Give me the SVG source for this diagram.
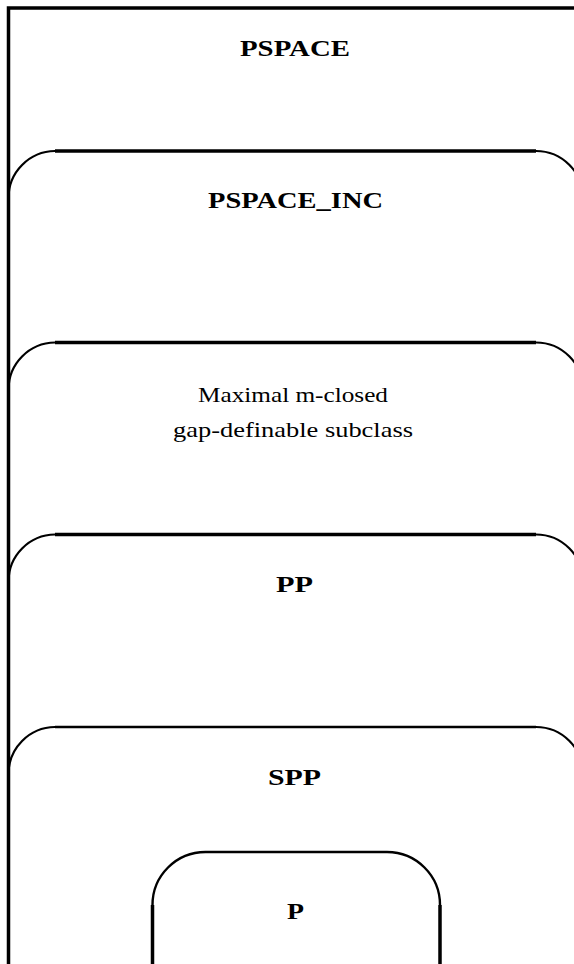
<svg xmlns="http://www.w3.org/2000/svg" width="574" height="964" viewBox="0 0 574 964">
<style>
.line{fill:none;stroke:#000;stroke-width:3.5;stroke-linecap:butt}
.arc{fill:none;stroke:#000;stroke-width:2.2}
.thin{fill:none;stroke:#000;stroke-width:2.4}
.b{font-family:"Liberation Serif","Times New Roman",serif;font-weight:bold;font-size:24px;text-anchor:middle;fill:#000}
.r{font-family:"Liberation Serif","Times New Roman",serif;font-size:21px;text-anchor:middle;fill:#000}
</style>
<rect width="574" height="964" fill="#fff"/>
<g id="pspace">
<path class="line" d="M8.5 964 V8 H574"/>
<text class="b" x="295" y="56" textLength="110" lengthAdjust="spacingAndGlyphs">PSPACE</text>
</g>
<g id="pspace_inc">
<path class="line" d="M55 151 H536"/>
<path class="arc" d="M8.5 198 A47 47 0 0 1 55 151 M536 151 A47 47 0 0 1 583 198"/>
<text class="b" x="295.5" y="208" textLength="175" lengthAdjust="spacingAndGlyphs">PSPACE_INC</text>
</g>
<g id="maximal">
<path class="line" d="M55 342.5 H536"/>
<path class="arc" d="M8.5 389.5 A47 47 0 0 1 55 342.5 M536 342.5 A47 47 0 0 1 583 389.5"/>
<text class="r" x="293" y="402" textLength="190" lengthAdjust="spacingAndGlyphs">Maximal m-closed</text>
<text class="r" x="293" y="437" textLength="240" lengthAdjust="spacingAndGlyphs">gap-definable subclass</text>
</g>
<g id="pp">
<path class="line" d="M55 534.5 H536"/>
<path class="arc" d="M8.5 581.5 A47 47 0 0 1 55 534.5 M536 534.5 A47 47 0 0 1 583 581.5"/>
<text class="b" x="294.5" y="592" textLength="37" lengthAdjust="spacingAndGlyphs">PP</text>
</g>
<g id="spp">
<path class="thin" d="M55 727 H536"/>
<path class="arc" d="M8.5 774 A47 47 0 0 1 55 727 M536 727 A47 47 0 0 1 583 774"/>
<text class="b" x="294.5" y="785" textLength="53" lengthAdjust="spacingAndGlyphs">SPP</text>
</g>
<g id="p">
<path class="line" d="M152.5 964 V905 M440 905 V964"/>
<path class="thin" d="M152.5 905 A53 53 0 0 1 205.5 852 H387 A53 53 0 0 1 440 905"/>
<text class="b" x="295.5" y="919" textLength="17" lengthAdjust="spacingAndGlyphs">P</text>
</g>
<g id="connectors"></g>
</svg>
